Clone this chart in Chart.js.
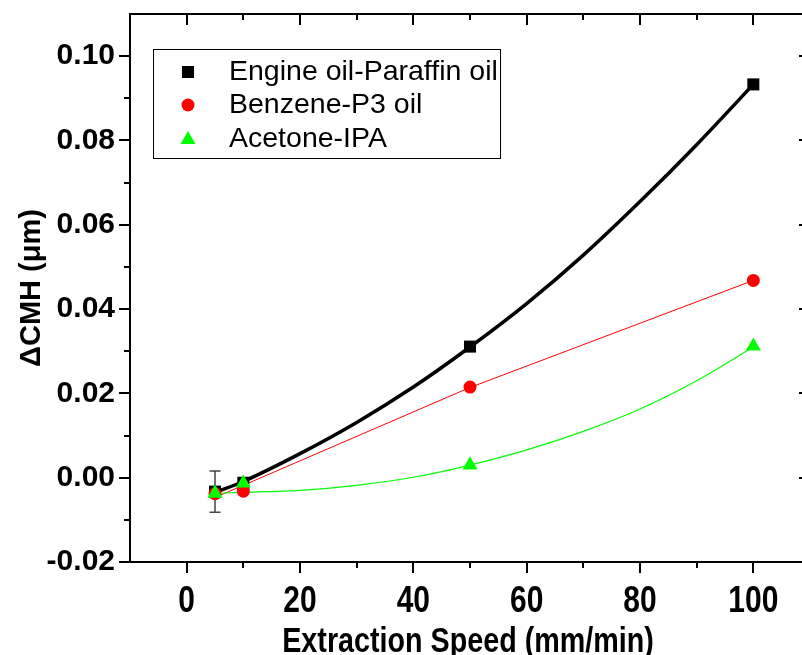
<!DOCTYPE html>
<html>
<head>
<meta charset="utf-8">
<title>Delta CMH vs Extraction Speed</title>
<script src="https://cdn.jsdelivr.net/npm/chart.js@4/dist/chart.umd.min.js"></script>
<style>
  html, body { margin: 0; padding: 0; background: #fff; overflow: hidden; }
  #wrap { width: 820px; height: 655px; }
</style>
</head>
<body>
<div id="wrap"><canvas id="cmh" width="820" height="655"></canvas></div>
<script>
/* ── Data ── */
var speeds = [5, 10, 50, 100];
var engineOil = [-0.0033, -0.0012, 0.0311, 0.0933];
var benzene = [-0.0038, -0.0032, 0.0215, 0.0468];
var acetone = [-0.0037, -0.0013, 0.0030, 0.0312];
var engineErr = [0.0049, 0, 0, 0];

/* fitted curves, read at a few speeds */
var fitSpeeds = [5, 10, 20, 30, 40, 50, 60, 70, 80, 90, 100];
var engineFit = [-0.0035, -0.0009, 0.0057, 0.0131, 0.0215, 0.0310, 0.0413, 0.0528, 0.0655, 0.0790, 0.0933];
var acetoneFit = [-0.0037, -0.0035, -0.0030, -0.0018, 0.0001, 0.0030, 0.0066, 0.0110, 0.0163, 0.0230, 0.0310];
var benzeneFitSpeeds = [5, 50, 100];
var benzeneFit = [-0.0047, 0.0214, 0.0468];

/* axis ticks */
var xTicks = [0, 20, 40, 60, 80, 100];
var xTickLabels = ["0", "20", "40", "60", "80", "100"];
var xMinor = [10, 30, 50, 70, 90];
var yTicks = [-0.02, 0, 0.02, 0.04, 0.06, 0.08, 0.10];
var yTickLabels = ["-0.02", "0.00", "0.02", "0.04", "0.06", "0.08", "0.10"];
var yMinor = [-0.01, 0.01, 0.03, 0.05, 0.07, 0.09];

var seriesNames = ["Engine oil-Paraffin oil", "Benzene-P3 oil", "Acetone-IPA"];
var xTitle = "Extraction Speed (mm/min)";
var BLACK = "#000000", RED = "#ff0000", GREEN = "#00ff00";

function pts(xs, ys) {
  return xs.map(function (x, i) { return { x: x, y: ys[i] }; });
}

/* ── Frame + minor/major ticks on all four sides ── */
var framePlugin = {
  id: "frame",
  afterDraw: function (chart) {
    var ctx = chart.ctx, a = chart.chartArea;
    var xs = chart.scales.x, ys = chart.scales.y;
    ctx.save();
    ctx.strokeStyle = "#000";
    ctx.lineWidth = 2;
    ctx.strokeRect(a.left, a.top, a.right - a.left, a.bottom - a.top);
    function xTick(v, len) {
      var p = Math.round(xs.getPixelForValue(v));
      ctx.beginPath();
      ctx.moveTo(p, a.bottom); ctx.lineTo(p, a.bottom + len);
      ctx.moveTo(p, a.top); ctx.lineTo(p, a.top + len);
      ctx.stroke();
    }
    function yTick(v, len) {
      var p = Math.round(ys.getPixelForValue(v));
      ctx.beginPath();
      ctx.moveTo(a.left, p); ctx.lineTo(a.left - len, p);
      ctx.moveTo(a.right, p); ctx.lineTo(a.right - len, p);
      ctx.stroke();
    }
    xTicks.forEach(function (v) { xTick(v, 11); });
    xMinor.forEach(function (v) { xTick(v, 6); });
    yTicks.forEach(function (v) { yTick(v, 11); });
    yMinor.forEach(function (v) { yTick(v, 6); });

    /* x labels and title are set in a condensed bold face */
    ctx.fillStyle = "#000";
    ctx.textAlign = "center";
    ctx.textBaseline = "alphabetic";
    ctx.font = "bold 37px 'Liberation Sans', Arial, sans-serif";
    xTicks.forEach(function (v, i) {
      ctx.save();
      ctx.translate(xs.getPixelForValue(v), 612);
      ctx.scale(0.81, 1);
      ctx.fillText(xTickLabels[i], 0, 0);
      ctx.restore();
    });
    ctx.font = "bold 35px 'Liberation Sans', Arial, sans-serif";
    ctx.save();
    ctx.translate(468, 652);
    ctx.scale(0.82, 1);
    ctx.fillText(xTitle, 0, 0);
    ctx.restore();
    ctx.restore();
  }
};

/* ── Error bar under the markers ── */
var errorPlugin = {
  id: "errbars",
  beforeDatasetsDraw: function (chart) {
    var ctx = chart.ctx, xs = chart.scales.x, ys = chart.scales.y;
    ctx.save();
    ctx.strokeStyle = "#444";
    ctx.lineWidth = 1.5;
    speeds.forEach(function (s, i) {
      if (!engineErr[i]) return;
      var px = xs.getPixelForValue(s);
      var top = ys.getPixelForValue(engineOil[i] + engineErr[i]);
      var bot = ys.getPixelForValue(engineOil[i] - engineErr[i]);
      ctx.beginPath();
      ctx.moveTo(px, top); ctx.lineTo(px, bot);
      ctx.moveTo(px - 5.5, top); ctx.lineTo(px + 5.5, top);
      ctx.moveTo(px - 5.5, bot); ctx.lineTo(px + 5.5, bot);
      ctx.stroke();
    });
    ctx.restore();
  }
};

/* ── Boxed legend inside the plot ── */
var legendPlugin = {
  id: "boxLegend",
  afterDraw: function (chart) {
    var ctx = chart.ctx;
    var rows = [72, 105, 139];
    var colors = [BLACK, RED, GREEN];
    ctx.save();
    ctx.fillStyle = "#fff";
    ctx.fillRect(153.5, 49.5, 347, 109);
    ctx.strokeStyle = "#000";
    ctx.lineWidth = 1;
    ctx.strokeRect(153.5, 49.5, 347, 109);
    rows.forEach(function (y, i) {
      ctx.fillStyle = colors[i];
      ctx.beginPath();
      if (i === 0) {
        ctx.rect(182, y - 6, 12, 12);
      } else if (i === 1) {
        ctx.arc(188, y, 6.5, 0, Math.PI * 2);
      } else {
        ctx.moveTo(188, y - 8); ctx.lineTo(195.5, y + 5); ctx.lineTo(180.5, y + 5); ctx.closePath();
      }
      ctx.fill();
      ctx.fillStyle = "#000";
      ctx.font = "28.5px 'Liberation Sans', Arial, sans-serif";
      ctx.textBaseline = "alphabetic";
      ctx.fillText(seriesNames[i], 229, y + 8);
    });
    ctx.restore();
  }
};

var ctx = document.getElementById("cmh").getContext("2d");

new Chart(ctx, {
  type: "scatter",
  data: {
    datasets: [
      {
        label: "fit-engine",
        data: pts(fitSpeeds, engineFit),
        showLine: true,
        borderColor: BLACK,
        borderWidth: 3.5,
        pointRadius: 0,
        cubicInterpolationMode: "monotone",
        order: 10
      },
      {
        label: "fit-benzene",
        data: pts(benzeneFitSpeeds, benzeneFit),
        showLine: true,
        borderColor: RED,
        borderWidth: 1,
        pointRadius: 0,
        tension: 0,
        order: 9
      },
      {
        label: "fit-acetone",
        data: pts(fitSpeeds, acetoneFit),
        showLine: true,
        borderColor: GREEN,
        borderWidth: 1.2,
        pointRadius: 0,
        cubicInterpolationMode: "monotone",
        order: 8
      },
      {
        label: seriesNames[0],
        data: pts(speeds, engineOil),
        pointStyle: "rect",
        pointRadius: 8.5,
        backgroundColor: BLACK,
        borderWidth: 0,
        order: 3
      },
      {
        label: seriesNames[1],
        data: pts(speeds, benzene),
        pointStyle: "circle",
        pointRadius: 6.5,
        backgroundColor: RED,
        borderWidth: 0,
        order: 2
      },
      {
        label: seriesNames[2],
        data: pts(speeds, acetone),
        pointStyle: "triangle",
        pointRadius: 8.7,
        backgroundColor: GREEN,
        borderWidth: 0,
        order: 1
      }
    ]
  },
  options: {
    responsive: false,
    animation: false,
    layout: { padding: { top: 14, right: 10, left: 0, bottom: 0 } },
    plugins: {
      legend: { display: false },
      tooltip: { enabled: false }
    },
    scales: {
      x: {
        type: "linear",
        min: -10,
        max: 110,
        afterBuildTicks: function (s) { s.ticks = xTicks.map(function (v) { return { value: v }; }); },
        afterFit: function (s) {
          s.height = 93;
          s.paddingLeft = 0; s.paddingRight = 0; s.paddingTop = 0; s.paddingBottom = 0;
        },
        grid: { display: false, drawTicks: false },
        border: { display: false },
        ticks: { display: false }
      },
      y: {
        type: "linear",
        min: -0.02,
        max: 0.11,
        afterBuildTicks: function (s) { s.ticks = yTicks.map(function (v) { return { value: v }; }); },
        afterFit: function (s) {
          s.width = 130;
          s.paddingLeft = 0; s.paddingRight = 0; s.paddingTop = 0; s.paddingBottom = 0;
        },
        grid: { display: false, drawTicks: false },
        border: { display: false },
        ticks: {
          color: "#000",
          padding: 15,
          autoSkip: false,
          font: { family: "'Liberation Sans', Arial", size: 30, weight: "bold" },
          callback: function (v) {
            for (var i = 0; i < yTicks.length; i++) {
              if (Math.abs(yTicks[i] - v) < 1e-9) return yTickLabels[i];
            }
            return "";
          }
        },
        title: {
          display: true,
          text: "\u0394CMH (\u03bcm)",
          color: "#000",
          padding: { top: 17, bottom: 0 },
          font: { family: "'Liberation Sans', Arial", size: 29, weight: "bold", lineHeight: 1 }
        }
      }
    }
  },
  plugins: [errorPlugin, framePlugin, legendPlugin]
});
</script>
</body>
</html>
